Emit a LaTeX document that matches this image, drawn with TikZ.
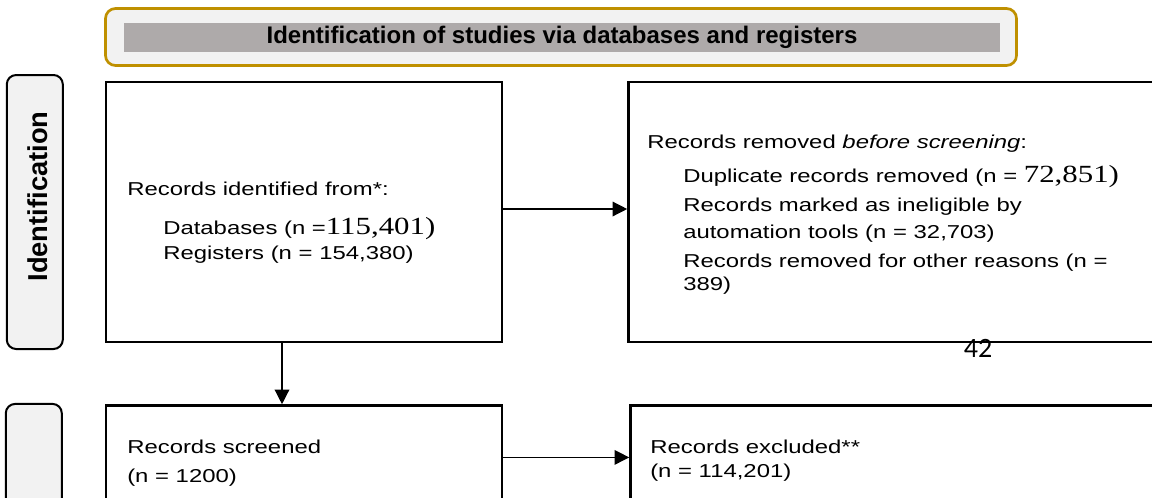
\documentclass[tikz,border=0pt]{standalone}
\usepackage{fontspec}
\setmainfont{Liberation Sans}[FakeStretch=1.28]
\newfontfamily\serifnum{Liberation Serif}[FakeStretch=1.25]
\newfontfamily\headfont{Liberation Sans}
\newfontfamily\pagefont{Carlito}
\usetikzlibrary{arrows.meta}
\usetikzlibrary{positioning}
\definecolor{headgold}{HTML}{BF9000}
\definecolor{panelgray}{HTML}{F2F2F2}
\definecolor{bargray}{HTML}{AEAAAA}
\newcommand{\bignum}[1]{{\serifnum\fontsize{18.5}{21}\selectfont #1}}
\tikzset{
  % arrow tips as in the flow chart
  >={Triangle[length=11pt,width=11pt]},
  % common styles
  line/.style={draw, ->, line width=1pt},
  block/.style={draw, rectangle, line width=1.8pt, minimum width=297pt, inner sep=0pt},
  phase/.style={draw, rectangle, rounded corners=7pt, line width=1.5pt, fill=panelgray, minimum width=42pt, inner sep=0pt},
  txt/.style={align=left, inner sep=0pt, font=\fontsize{14}{21}\selectfont}
}

\begin{document}
\begin{tikzpicture}[x=0.75pt, y=-0.75pt]
    \useasboundingbox (0,0) rectangle (1152,497);

    % Header
    \node [draw=headgold, line width=2pt, fill=panelgray, rounded corners=7.5pt, minimum width=683.25pt, minimum height=42.75pt] (head) at (561,37) {};
    \node [fill=bargray, minimum width=657pt, minimum height=21.75pt, inner sep=0pt, font=\headfont\bfseries\fontsize{18}{21}\selectfont] (headbar) at (562,37.5) {Identification of studies via databases and registers};

    % Place boxes
    \node [block, minimum height=195pt] (ident) at (304,212) {};
    \node [block, minimum height=195pt, minimum width=402pt, right=93pt of ident] (removed) {};
    \node [block, minimum height=82.5pt, below=45.75pt of ident] (screened) {};
    \node [block, minimum height=82.5pt, minimum width=400.5pt, right=94.5pt of screened] (excluded) {};
    \node [phase, minimum height=205.5pt, left=30.75pt of ident] (idphase) {};
    \node [phase, minimum height=84.75pt, left=31.5pt of screened] (scrphase) {};

    % Box texts (anchored at the baseline of the last line)
    \node [rotate=90, font=\headfont\bfseries\fontsize{20.5}{24}\selectfont] (idlabel) at (37.5,196.5) {Identification};
    \node [txt, anchor=base west] (identtxt) at (127,259) {Records identified from*:\\[8.25pt]
      \hspace*{27pt}Databases (n =\bignum{115,401)}\\[-2.25pt]
      \hspace*{27pt}Registers (n = 154,380)};
    \node [txt, anchor=base west] (removedtxt) at (647,290) {Records removed \textit{before screening}:\\[4.5pt]
      \hspace*{27pt}Duplicate records removed (n = \bignum{72,851)}\\[0.75pt]
      \hspace*{27pt}Records marked as ineligible by\\[-0.75pt]
      \hspace*{27pt}automation tools (n = 32,703)\\[0.75pt]
      \hspace*{27pt}Records removed for other reasons (n =\\[-3.75pt]
      \hspace*{27pt}389)};
    \node [txt, anchor=base west] (screenedtxt) at (127,482) {Records screened\\[0.75pt](n = 1200)};
    \node [txt, anchor=base west] (excludedtxt) at (650,477) {Records excluded**\\[-3pt](n = 114,201)};
    \node [font=\pagefont\fontsize{21}{24}\selectfont, anchor=base, inner sep=0pt] (pagenum) at (978,357) {42};

    % Draw edges
    \path [line] ([yshift=2.25pt]ident.east) -- ([yshift=2.25pt]removed.west);
    \path [line] ([xshift=-16.5pt]ident.south) -- ([xshift=-16.5pt]screened.north);
    \path [line] ([yshift=2.25pt]screened.east) -- ([yshift=2.25pt]excluded.west);

\end{tikzpicture}
\end{document}
